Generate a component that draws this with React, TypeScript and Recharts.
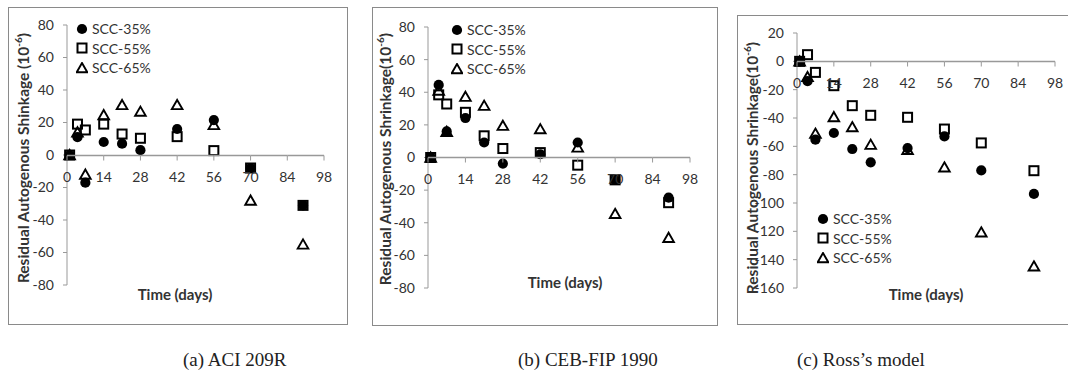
import { ScatterChart, Scatter, XAxis, YAxis, Legend, Label } from 'recharts';

// sampling ages (days) shared by all series
const DAYS = [1, 4, 7, 14, 21, 28, 42, 56, 70, 90];

// (a) ACI 209R
const ACI_35 = [0, 11, -17, 8, 7, 3, 16, 21.5, -8, -31];
const ACI_55 = [0, 19, 15.4, 19, 12.9, 10.3, 11.3, 2.7, -8, -31];
const ACI_65 = [0, 14, -12, 24.6, 30.8, 26.7, 30.8, 18.5, -28, -55];

// (b) CEB-FIP 1990
const CEB_35 = [0, 44.5, 16, 24.2, 9.2, -3.7, 2, 9.2, -13.7, -24.6];
const CEB_55 = [0, 38.4, 32.8, 27.7, 13.3, 5.5, 3, -4.7, -13.7, -27.7];
const CEB_65 = [0, 41, 15.8, 37.3, 31.8, 19.5, 17.4, 6.2, -34.5, -49.2];

// (c) Ross's model
const ROSS_35 = [0, -14, -55.3, -50.6, -61.9, -71.3, -61.2, -53, -77, -93.6];
const ROSS_55 = [0, 4.7, -7.8, -17.2, -31.3, -38.1, -39.5, -47.8, -57.6, -77.2];
const ROSS_65 = [0, -11, -51, -39.3, -46.4, -58.8, -62.4, -74.8, -120.7, -144.7];

const SERIES = ['SCC-35%', 'SCC-55%', 'SCC-65%'];
const X_TICKS = [0, 14, 28, 42, 56, 70, 84, 98];
const X_MAX = 98;
const Y_TICKS_AB = [-80, -60, -40, -20, 0, 20, 40, 60, 80];
const Y_TICKS_C = [-160, -140, -120, -100, -80, -60, -40, -20, 0, 20];

const FONT = 'Lato, "Open Sans", sans-serif';
const TXT = '#333';
const AXIS = '#999';
const FRAME = '#8a8a8a';

const toPoints = (vals: number[]) => DAYS.map((d, i) => ({ day: d, v: vals[i] }));

const Dot = (p: any) => <circle cx={p.cx} cy={p.cy} r={5.1} fill="#000" />;
const Box = (p: any) => (
  <rect x={p.cx - 4.5} y={p.cy - 4.5} width={9} height={9} fill="none" stroke="#000" strokeWidth={2} />
);
const Tri = (p: any) => (
  <path
    d={`M${p.cx},${p.cy - 5}L${p.cx + 5.3},${p.cy + 4.2}L${p.cx - 5.3},${p.cy + 4.2}Z`}
    fill="none"
    stroke="#000"
    strokeWidth={1.9}
  />
);
const SHAPES = [Dot, Box, Tri];

function LegendBox({ payload }: any) {
  return (
    <div style={{ fontFamily: FONT, fontSize: 14, color: TXT }}>
      {(payload || []).map((e: any) => {
        const Shape = SHAPES[SERIES.indexOf(e.value)] || Dot;
        return (
          <div key={e.value} style={{ display: 'flex', alignItems: 'center', height: 19.5 }}>
            <svg width={12} height={12} style={{ marginRight: 4 }}>
              <Shape cx={6} cy={6} />
            </svg>
            <span>{e.value}</span>
          </div>
        );
      })}
    </div>
  );
}

type PanelProps = {
  left: number;
  top: number;
  width: number;
  height: number;
  margin: { top: number; right: number; bottom: number; left: number };
  yWidth: number;
  yDomain: [number, number];
  yTicks: number[];
  data: number[][];
  yTitle: string;
  yTitlePos: [number, number];
  xTitlePos: [number, number];
  legendPos: { left: number; top: number };
  openRight?: boolean;
};

function Panel(props: PanelProps) {
  const { left, top, width, height, margin, yWidth, yDomain, yTicks, data } = props;
  // x axis gets 1px of height, taken back from the bottom margin
  const plotH = height - margin.top - margin.bottom - 1;
  const plotW = width - margin.left - margin.right - yWidth;
  const zeroY = Math.round(margin.top + (plotH * yDomain[1]) / (yDomain[1] - yDomain[0])) + 0.5;
  const step = (plotW * (X_TICKS[1] - X_TICKS[0])) / X_MAX;

  // x ticks sit on the zero line, each one also draws the axis segment to the next tick
  const XTick = (p: any) => (
    <g>
      {p.payload.value < X_MAX && (
        <line x1={p.x} x2={p.x + step} y1={zeroY} y2={zeroY} stroke={AXIS} strokeWidth={1.5} />
      )}
      <line x1={p.x} x2={p.x} y1={zeroY} y2={zeroY + 5} stroke={AXIS} />
      <text x={p.x} y={zeroY + 26} textAnchor="middle" fill={TXT} fontSize={14} fontFamily={FONT}>
        {p.payload.value}
      </text>
    </g>
  );

  const YTitle = () => (
    <text
      transform={`translate(${props.yTitlePos[0]},${props.yTitlePos[1]}) rotate(-90)`}
      textAnchor="middle"
      dominantBaseline="central"
      fill={TXT}
      fontSize={15.5}
      fontWeight="bold"
      fontFamily={FONT}
    >
      {props.yTitle}
      <tspan dy={-5} fontSize={10}>-6</tspan>
      <tspan dy={5}>)</tspan>
    </text>
  );

  const XTitle = () => (
    <text
      x={props.xTitlePos[0]}
      y={props.xTitlePos[1] + 5}
      textAnchor="middle"
      fill={TXT}
      fontSize={15}
      fontWeight="bold"
      fontFamily={FONT}
    >
      Time (days)
    </text>
  );

  return (
    <>
      <div
        style={{
          position: 'absolute',
          left,
          top,
          width: props.openRight ? width + 10 : width,
          height,
          boxSizing: 'border-box',
          border: `1.5px solid ${FRAME}`,
          borderRight: props.openRight ? 'none' : `1.5px solid ${FRAME}`,
        }}
      />
      <div style={{ position: 'absolute', left, top }}>
        <ScatterChart width={width} height={height} margin={{ ...margin, bottom: margin.bottom - 1 }}>
          <XAxis
            type="number"
            dataKey="day"
            domain={[0, X_MAX]}
            ticks={X_TICKS}
            interval={0}
            height={1}
            axisLine={false}
            tickLine={false}
            tick={XTick}
          >
            <Label content={XTitle} />
          </XAxis>
          <YAxis
            type="number"
            dataKey="v"
            domain={yDomain}
            ticks={yTicks}
            interval={0}
            width={yWidth}
            stroke={AXIS}
            tickSize={4}
            tickMargin={9}
            tick={{ fill: TXT, fontSize: 14, fontFamily: FONT }}
          >
            <Label content={YTitle} />
          </YAxis>
          <Legend
            layout="vertical"
            align="center"
            verticalAlign="middle"
            wrapperStyle={{ left: props.legendPos.left, top: props.legendPos.top, width: 'auto' }}
            content={LegendBox}
          />
          {SERIES.map((name, i) => (
            <Scatter
              key={name}
              name={name}
              data={toPoints(data[i])}
              fill="#000"
              shape={SHAPES[i]}
              isAnimationActive={false}
            />
          ))}
        </ScatterChart>
      </div>
    </>
  );
}

const captionStyle = {
  position: 'absolute' as const,
  top: 349,
  fontFamily: '"Liberation Serif", "Times New Roman", serif',
  fontSize: 19,
  lineHeight: '22px',
  color: '#222',
  whiteSpace: 'nowrap' as const,
};

export default function App() {
  return (
    <div style={{ position: 'absolute', left: 0, top: 0, width: 1068, height: 372, background: '#fff', overflow: 'hidden' }}>
      <Panel
        left={8}
        top={7}
        width={340}
        height={318}
        margin={{ top: 18, right: 24, bottom: 40, left: 0 }}
        yWidth={59}
        yDomain={[-80, 80]}
        yTicks={Y_TICKS_AB}
        data={[ACI_35, ACI_55, ACI_65]}
        yTitle="Residual Autogenous Shinkage (10"
        yTitlePos={[15, 151]}
        xTitlePos={[167, 288]}
        legendPos={{ left: 68, top: 12 }}
      />
      <Panel
        left={372}
        top={7}
        width={346}
        height={319}
        margin={{ top: 20, right: 28, bottom: 38, left: 0 }}
        yWidth={56}
        yDomain={[-80, 80]}
        yTicks={Y_TICKS_AB}
        data={[CEB_35, CEB_55, CEB_65]}
        yTitle="Residual Autogenous Shrinkage(10"
        yTitlePos={[13, 152]}
        xTitlePos={[193, 276]}
        legendPos={{ left: 79, top: 13 }}
      />
      <Panel
        left={737}
        top={15}
        width={331}
        height={310}
        margin={{ top: 18, right: 13, bottom: 37, left: 0 }}
        yWidth={60}
        yDomain={[-160, 20]}
        yTicks={Y_TICKS_C}
        data={[ROSS_35, ROSS_55, ROSS_65]}
        yTitle="Residual Autogenous Shrinkage(10"
        yTitlePos={[15, 153]}
        xTitlePos={[189, 280]}
        legendPos={{ left: 80, top: 194 }}
        openRight
      />
      <div style={{ ...captionStyle, left: 183 }}>(a) ACI 209R</div>
      <div style={{ ...captionStyle, left: 518 }}>(b) CEB-FIP 1990</div>
      <div style={{ ...captionStyle, left: 797 }}>(c) Ross’s model</div>
    </div>
  );
}
